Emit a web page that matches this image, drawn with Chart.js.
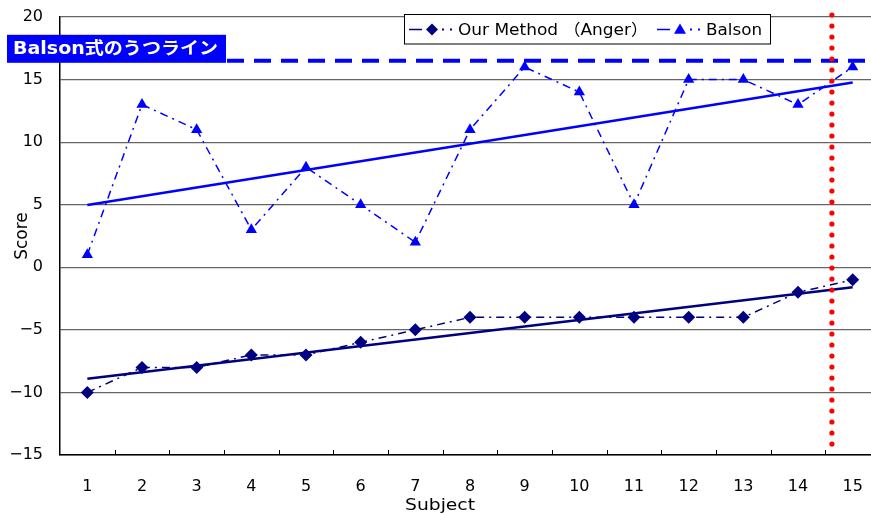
<!DOCTYPE html>
<html>
<head>
<meta charset="utf-8">
<script src="https://cdn.jsdelivr.net/npm/chart.js@4"></script>
<style>
  html, body { margin: 0; padding: 0; background: #fff; overflow: hidden; }
  #wrap { width: 871px; height: 514px; overflow: hidden; position: relative; }
  canvas { display: block; }
</style>
</head>
<body>
<div id="wrap"><canvas id="c" width="880" height="514"></canvas></div>
<script>
// ---- data ----
const subjects = ['1','2','3','4','5','6','7','8','9','10','11','12','13','14','15'];
const ourMethod = [-10, -8, -8, -7, -7, -6, -5, -4, -4, -4, -4, -4, -4, -2, -1];
const balson = [1, 13, 11, 3, 8, 5, 2, 11, 16, 14, 5, 15, 15, 13, 16];
const ourTrend = [-8.9, null, null, null, null, null, null, null, null, null, null, null, null, null, -1.6];
const balsonTrend = [4.97, null, null, null, null, null, null, null, null, null, null, null, null, null, 14.77];
const yTicks = [-15, -10, -5, 0, 5, 10, 15, 20];
const balsonLineValue = 16.5;
const balsonLineLabel = 'Balson式のうつライン';
const cutoffSubject = 14.62; // position between subject 14 and 15
const seriesNames = ['Our Method （Anger）', 'Balson'];
const xTitle = 'Subject';
const yTitle = 'Score';

const FONT = "'DejaVu Sans', 'Noto Sans CJK JP', sans-serif";
const NAVY = '#000080';
const BLUE = '#0000FF';

function drawMarker(ctx, style, x, y, r, color) {
  ctx.save();
  ctx.fillStyle = color;
  ctx.beginPath();
  if (style === 'rectRot') {
    ctx.moveTo(x, y - r); ctx.lineTo(x + r, y); ctx.lineTo(x, y + r); ctx.lineTo(x - r, y);
  } else {
    ctx.moveTo(x, y - r); ctx.lineTo(x + r, y + r * 0.7); ctx.lineTo(x - r, y + r * 0.7);
  }
  ctx.closePath();
  ctx.fill();
  ctx.restore();
}

// draw text stretched to a target width
function fitText(ctx, text, x, y, width) {
  const w = ctx.measureText(text).width;
  ctx.save();
  ctx.translate(x, y);
  ctx.scale(width / w, 1);
  ctx.fillText(text, 0, 0);
  ctx.restore();
}

const overlay = {
  id: 'overlay',
  afterDatasetsDraw(chart) {
    const ctx = chart.ctx;
    const area = chart.chartArea;
    const xs = chart.scales.x, ys = chart.scales.y;
    // inside tick marks on x axis, at category boundaries
    ctx.save();
    ctx.strokeStyle = '#000';
    ctx.lineWidth = 1;
    for (let i = 1; i < subjects.length; i++) {
      const xp = Math.round(xs.getPixelForValue(i - 0.5)) + 0.5;
      ctx.beginPath(); ctx.moveTo(xp, area.bottom); ctx.lineTo(xp, area.bottom - 5); ctx.stroke();
    }
    ctx.restore();
    // dashed Balson line
    const yl = ys.getPixelForValue(balsonLineValue);
    ctx.save();
    ctx.strokeStyle = BLUE;
    ctx.lineWidth = 4;
    ctx.setLineDash([17, 10]);
    ctx.beginPath();
    ctx.moveTo(227, yl);
    ctx.lineTo(area.right, yl);
    ctx.stroke();
    ctx.restore();
    // red dotted cutoff
    const xc = xs.getPixelForValue(cutoffSubject - 1);
    ctx.save();
    ctx.fillStyle = '#FF0000';
    for (let y = 15; y <= 447; y += 11) {
      ctx.beginPath();
      ctx.arc(xc, y, 2.6, 0, Math.PI * 2);
      ctx.fill();
    }
    ctx.restore();
  },
  afterDraw(chart) {
    const ctx = chart.ctx;
    const ys = chart.scales.y;
    const yl = ys.getPixelForValue(balsonLineValue);
    // label box
    ctx.save();
    ctx.fillStyle = BLUE;
    ctx.fillRect(7, yl - 26, 219, 28);
    ctx.fillStyle = '#FFFFFF';
    ctx.font = "bold 17px " + FONT;
    ctx.textBaseline = 'middle';
    ctx.textAlign = 'left';
    fitText(ctx, balsonLineLabel, 13, yl - 11, 205);
    ctx.restore();
    // legend
    ctx.save();
    ctx.fillStyle = '#fff';
    ctx.fillRect(404, 14.5, 366, 29.5);
    ctx.strokeStyle = '#000';
    ctx.lineWidth = 1;
    ctx.strokeRect(404.5, 14.5, 366, 29.5);
    const ly = 29.5;
    const items = [
      {x: 409, color: NAVY, style: 'rectRot', text: seriesNames[0], w: 190},
      {x: 657, color: BLUE, style: 'triangle', text: seriesNames[1], w: 56}
    ];
    items.forEach(it => {
      ctx.strokeStyle = it.color;
      ctx.lineWidth = 1.5;
      ctx.beginPath(); ctx.moveTo(it.x, ly); ctx.lineTo(it.x + 13, ly); ctx.stroke();
      ctx.lineWidth = 2;
      ctx.setLineDash([2, 6]);
      ctx.beginPath(); ctx.moveTo(it.x + 33, ly); ctx.lineTo(it.x + 48, ly); ctx.stroke();
      ctx.setLineDash([]);
      drawMarker(ctx, it.style, it.x + 23, ly, 6, it.color);
      ctx.fillStyle = '#000';
      ctx.font = "16px " + FONT;
      ctx.textBaseline = 'middle';
      fitText(ctx, it.text, it.x + 49, ly + 1, it.w);
    });
    ctx.restore();
    // x title
    ctx.save();
    ctx.fillStyle = '#000';
    ctx.font = "16px " + FONT;
    ctx.textAlign = 'left';
    ctx.textBaseline = 'middle';
    fitText(ctx, xTitle, 405, 506, 70);
    ctx.restore();
  }
};

new Chart(document.getElementById('c'), {
  type: 'line',
  data: {
    labels: subjects,
    datasets: [
      {
        label: seriesNames[0], data: ourMethod,
        borderColor: NAVY, backgroundColor: NAVY, borderWidth: 1.5,
        borderDash: [8, 5, 2, 5], pointStyle: 'rectRot', pointRadius: 6.5,
        pointBorderWidth: 0, tension: 0, order: 2
      },
      {
        label: seriesNames[1], data: balson,
        borderColor: BLUE, backgroundColor: BLUE, borderWidth: 1.5,
        borderDash: [8, 5, 2, 5], pointStyle: 'triangle', pointRadius: 6.5,
        pointBorderWidth: 0, tension: 0, order: 2
      },
      {
        label: 'trend1', data: ourTrend, spanGaps: true,
        borderColor: NAVY, borderWidth: 2.5, pointRadius: 0, order: 1
      },
      {
        label: 'trend2', data: balsonTrend, spanGaps: true,
        borderColor: BLUE, borderWidth: 2.5, pointRadius: 0, order: 1
      }
    ]
  },
  options: {
    responsive: false,
    animation: false,
    devicePixelRatio: 1,
    layout: { autoPadding: false, padding: { top: 17, left: 0, right: 0, bottom: 0 } },
    plugins: { legend: { display: false }, tooltip: { enabled: false } },
    scales: {
      x: {
        type: 'category', offset: true,
        grid: { display: true, drawOnChartArea: false, drawTicks: true, tickLength: 22, tickColor: 'rgba(0,0,0,0)', offset: true },
        border: { display: true, color: '#000', width: 1.5 },
        ticks: { color: '#000', font: { family: FONT, size: 16 }, padding: 0, maxRotation: 0, autoSkip: false },
        afterFit(s) { s.height = 59; }
      },
      y: {
        min: -15, max: 20,
        afterBuildTicks(s) { s.ticks = yTicks.map(v => ({ value: v })); },
        grid: { color: '#656565', lineWidth: 1.2, drawTicks: false },
        border: { display: true, color: '#000', width: 1.5 },
        ticks: {
          color: '#000', font: { family: FONT, size: 16, lineHeight: 0 }, padding: 17,
          callback: v => String(v).replace('-', '−')
        },
        title: { display: true, text: yTitle, color: '#000', font: { family: FONT, size: 17 }, padding: { top: 12, bottom: 0 } },
        afterFit(s) { s.width = 60; }
      }
    }
  },
  plugins: [overlay]
});
</script>
</body>
</html>
